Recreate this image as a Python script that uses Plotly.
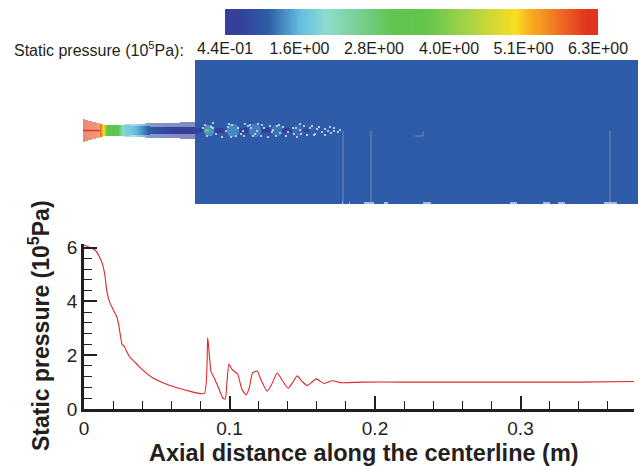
import numpy as np
import plotly.graph_objects as go

W, H = 638, 466
INK = "#231f20"
FONT = "Liberation Sans, Arial, sans-serif"

# centreline pressure curve
axial_m = [0, .0041, .0076, .0106, .0129, .0145, .0156, .0175, .0202, .0225, .0239, .0253, .0262, .0276, .0294,
           .0317, .034, .0386, .0477, .0592, .0707, .0827, .085, .0873, .0896, .0926, .0955, .0971, .0982, .0996,
           .1017, .1056, .1085, .1115, .1138, .1157, .1189, .1217, .1258, .1288, .1327, .1361, .1403, .143, .1465,
           .15, .1534, .1562, .1596, .1649, .1706, .1764, .19, .22, .26, .30, .34, .378]
pressure = [6.1, 6.0, 5.91, 5.66, 5.35, 4.92, 4.42, 3.99, 3.68, 3.43, 3.12, 2.63, 2.40, 2.34, 2.13,
            1.92, 1.80, 1.54, 1.14, .87, .69, .58, 2.66, 1.39, 1.14, .77, .40, .37, .95, 1.67,
            1.47, 1.30, .73, .52, .83, 1.33, 1.41, 1.08, .66, .89, 1.34, 1.08, .77, .95, 1.23,
            1.02, .87, .98, 1.12, .95, 1.05, .98, 1.0, 1.0, 1.0, 1.0, 1.0, 1.02]
x_ticks = [0, .1, .2, .3]
x_tick_text = ["0", "0.1", "0.2", "0.3"]
y_ticks = [0, 2, 4, 6]

# colour legend
legend_ticks = [0.44, 1.61, 2.78, 3.96, 5.13, 6.3]
legend_text = ["4.4E-01", "1.6E+00", "2.8E+00", "4.0E+00", "5.1E+00", "6.3E+00"]
scale = [[0, "#35409b"], [.04, "#35409b"], [.117, "#2f5ca8"], [.2, "#62bde0"], [.27, "#8fdcd0"], [.45, "#5fc450"],
         [.54, "#62c64c"], [.65, "#a5d348"], [.78, "#f8de20"], [.825, "#f8a91f"], [.9, "#ee6a24"], [.97, "#e2341e"], [1, "#e2341e"]]

# nozzle (field-view units: px-like stations along the duct)
nozzle_x = [83, 90, 97, 101, 104, 107, 112, 118, 124, 130, 136, 142, 150, 160, 170, 180, 195]
nozzle_half = [11.5, 9.5, 7.8, 6.8, 5.6, 5.3, 5.3, 5.6, 6, 6.3, 6.6, 6.9, 7.2, 7.5, 7.8, 8, 8.3]
nozzle_core = [11.5, 9.5, 7.8, 6.8, 5.6, 5.3, 5.3, 5.2, 5, 5, 4.5, 4.5, 4, 3.5, 3, 3, 3]
nozzle_p = [6.1, 6.0, 5.9, 5.6, 4.9, 3.6, 3.3, 3.1, 1.9, 1.8, 1.6, 1.4, 1.1, .9, .7, .6, .5]
nozzle_axis_x = [83, 100]
nozzle_axis_y = [130.5, 130.5]

# plume cells downstream of the exit: station, half height, half length, pressure
plume_x = [197, 209, 207, 220, 233, 244, 255, 266, 277, 287, 298, 306, 315, 332]
plume_half = [3, 6, 2, 3, 7, 3, 7, 3, 6, 3, 6, 2, 5, 2]
plume_len = [6, 5, 2, 6, 6, 5, 6, 5, 6, 5, 5, 4, 5, 3]
plume_p = [.5, 1.4, 2.9, .55, 1.35, .6, 1.3, .6, 1.25, .65, 1.2, .7, 1.15, 1.12]
speck_x = [205, 207, 213, 216, 226, 229, 231, 238, 241, 244, 248, 250, 253, 258, 261, 264, 270, 272, 276, 279, 283, 288, 293, 297,
           300, 304, 307, 310, 315, 319, 322, 325, 328, 331, 334, 268, 245, 222, 213, 300,
           203, 211, 228, 236, 232, 251, 257, 255, 273, 280, 277, 294, 301, 296, 312, 317, 314, 325, 330, 338, 340, 334, 243, 286, 262]
speck_y = [125, 136, 128, 134, 131, 124, 137, 128, 134, 136, 126, 125, 136, 124, 136, 128, 126, 132, 136, 125, 127, 132, 128, 137,
           130, 126, 135, 128, 134, 127, 132, 129, 131, 133, 131, 137, 124, 137, 123, 124,
           128, 127, 127, 136, 125, 128, 131, 134, 130, 133, 126, 134, 134, 128, 126, 129, 135, 135, 127, 132, 130, 128, 131, 136, 125]

# pale seams in the field
seam_x = [343, None, 371, None, 610, None, 415, 423, 423]
seam_y = [131, None, 131, None, 131, None, 136, 136, 131]
seam_y2 = [204, None, 204, None, 204, None, 136, 136, 131]
foot_start = [342, 349, 364, 384, 423, 510, 543, 558, 604]
foot_end = [343, 350, 374, 388, 431, 517, 550, 565, 617]

# shared colour range
pmin, pmax = legend_ticks[0], legend_ticks[-1]
legend_levels = np.linspace(pmin, pmax, 186)

# raster the field view
gx = np.arange(83, 638, 1) + 0.5
gy = np.arange(60, 204, 1) + 0.5
cy = 130.5
gxm, gym = np.meshgrid(gx, gy)
base = np.full(gxm.shape, 1.12)
for x0, hh, hl, p in zip(plume_x, plume_half, plume_len, plume_p):
    d = ((gxm - x0) / hl) ** 2 + ((gym - cy) / hh) ** 2
    base = np.where(d <= 1, p, base)
base[gxm < 195] = np.nan

hw = np.interp(gx, nozzle_x, nozzle_half, right=0)
core = np.interp(gx, nozzle_x, nozzle_core, right=0)
pr = np.interp(gx, nozzle_x, nozzle_p)
outer_z = np.where((np.abs(gym - cy) <= hw[None, :]) & (gxm < 195), pr[None, :], np.nan)
core_z = np.where((np.abs(gym - cy) <= core[None, :]) & (gxm < 195) & (gxm > 100), pr[None, :], np.nan)


def dom_x(a, b):
    return [a / W, b / W]


def dom_y(top, bottom):
    return [1 - bottom / H, 1 - top / H]


fig = go.Figure()
common = dict(colorscale=scale, zmin=pmin, zmax=pmax, showscale=False, hoverinfo="skip")

fig.add_trace(go.Heatmap(x=legend_levels, y=[0, 1], z=[legend_levels, legend_levels],
                         xaxis="x2", yaxis="y2", **common))
fig.add_trace(go.Heatmap(x=gx, y=gy, z=base, xaxis="x3", yaxis="y3", **common))
fig.add_trace(go.Heatmap(x=gx, y=gy, z=outer_z, xaxis="x3", yaxis="y3", opacity=.6, **common))
fig.add_trace(go.Heatmap(x=gx, y=gy, z=core_z, xaxis="x3", yaxis="y3", **common))
fig.add_trace(go.Scatter(x=nozzle_axis_x, y=nozzle_axis_y, mode="lines", line=dict(color="#e2341e", width=1.5),
                         xaxis="x3", yaxis="y3", hoverinfo="skip"))

sx, sy = [], []
for x, a, b in zip(seam_x, seam_y, seam_y2):
    sx.append(x)
    sy.append(a)
    if x is not None and a != b:
        sx.extend([x, None])
        sy.extend([b, None])
fig.add_trace(go.Scatter(x=sx, y=sy, mode="lines", line=dict(color="#7f97c9", width=0.8),
                         xaxis="x3", yaxis="y3", hoverinfo="skip"))
fx, fy = [], []
for a, b in zip(foot_start, foot_end):
    fx += [a, b, None]
    fy += [203, 203, None]
fig.add_trace(go.Scatter(x=fx, y=fy, mode="lines", line=dict(color="#a9bce0", width=2),
                         xaxis="x3", yaxis="y3", hoverinfo="skip"))
fig.add_trace(go.Scatter(x=speck_x, y=speck_y, mode="markers",
                         marker=dict(symbol="square", size=2, color="#b9c8e6"),
                         xaxis="x3", yaxis="y3", hoverinfo="skip"))

fig.add_trace(go.Scatter(x=axial_m, y=pressure, mode="lines",
                         line=dict(color="#e0262a", width=1.1, shape="spline", smoothing=0.5),
                         hoverinfo="skip"))

fig.update_layout(
    width=W, height=H, margin=dict(l=0, r=0, t=0, b=0, pad=0), autosize=False,
    paper_bgcolor="white", plot_bgcolor="rgba(0,0,0,0)", showlegend=False,
    font=dict(family=FONT, color=INK),
    xaxis=dict(domain=dom_x(84, 634), range=[0, 550 / 1455], anchor="y", automargin=False,
               tickvals=x_ticks, ticktext=x_tick_text, ticks="inside", ticklen=13, tickwidth=2, tickcolor=INK,
               minor=dict(dtick=.02, ticks="inside", ticklen=8, tickwidth=1, tickcolor=INK),
               showline=True, linecolor=INK, linewidth=2.5, showgrid=False, zeroline=False,
               tickfont=dict(size=19)),
    yaxis=dict(domain=dom_y(244, 409), range=[0, 165 / 26.9], anchor="x", automargin=False,
               tickvals=y_ticks, ticks="inside", ticklen=13, tickwidth=2, tickcolor=INK,
               minor=dict(dtick=.4, ticks="inside", ticklen=8, tickwidth=1, tickcolor=INK),
               showline=True, linecolor=INK, linewidth=2.5, showgrid=False, zeroline=False,
               tickfont=dict(size=19)),
    xaxis2=dict(domain=dom_x(225, 598), range=[pmin, pmax], anchor="y2", tickvals=legend_ticks, ticktext=legend_text,
                ticks="", tickfont=dict(size=16), ticklabelstandoff=2, showgrid=False, zeroline=False, showline=False,
                automargin=False),
    yaxis2=dict(domain=dom_y(9, 35), range=[0, 1], anchor="x2", visible=False),
    xaxis3=dict(domain=dom_x(83, 638), range=[83, 638], anchor="y3", visible=False),
    yaxis3=dict(domain=dom_y(60, 204), range=[204, 60], anchor="x3", visible=False),
    annotations=[
        dict(text="Static pressure (10<sup>5</sup>Pa):", xref="paper", yref="paper",
             x=12 / W, y=1 - 49 / H, xanchor="left", yanchor="middle", showarrow=False, font=dict(size=16)),
        dict(text="<b>Axial distance along the centerline (m)</b>", xref="paper", yref="paper",
             x=364 / W, y=1 - 453 / H, xanchor="center", yanchor="middle", showarrow=False, font=dict(size=23.5)),
        dict(text="<b>Static pressure (10<sup>5</sup>Pa)</b>", xref="paper", yref="paper", textangle=-90,
             x=39 / W, y=1 - 326 / H, xanchor="center", yanchor="middle", showarrow=False, font=dict(size=23)),
    ],
)

fig.write_html("out.html", config={"displayModeBar": False},
               post_script="document.body.style.margin='0';document.documentElement.style.overflow='hidden';")
